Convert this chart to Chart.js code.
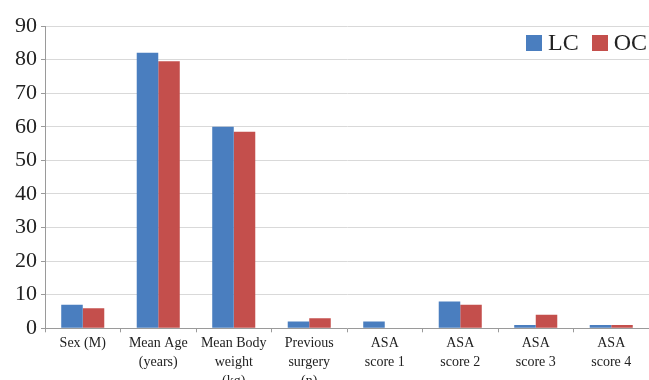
<!DOCTYPE html>
<html>
<head>
<meta charset="utf-8">
<script src="https://cdn.jsdelivr.net/npm/chart.js@4"></script>
<style>
  html, body { margin: 0; padding: 0; background: #fff; overflow: hidden; }
  #wrap { position: relative; width: 649px; height: 380px; overflow: hidden; }
  #legend { position: absolute; top: 29px; left: 526px; white-space: nowrap;
            font-family: 'Liberation Serif', 'Times New Roman', serif; font-size: 24px; color: #222; }
  #legend span.item { display: inline-block; margin-right: 13px; }
  #legend span.box { display: inline-block; width: 16px; height: 16px; margin-right: 6px; vertical-align: -1px; }
</style>
</head>
<body>
<div id="wrap">
  <canvas id="myBarChart" width="649" height="393"></canvas>
  <div id="legend"></div>
</div>
<script>
// kategoriyalar va qiymatlar
const categories = [
    'Sex (M)',
    ['Mean Age', '(years)'],
    ['Mean Body', 'weight', '(kg)'],
    ['Previous', 'surgery', '(n)'],
    ['ASA', 'score 1'],
    ['ASA', 'score 2'],
    ['ASA', 'score 3'],
    ['ASA', 'score 4']
];
const seriesNames = ['LC', 'OC'];
const lcValues = [7, 82, 60, 2, 2, 8, 1, 1];
const ocValues = [6, 79.5, 58.5, 3, 0, 7, 4, 1];
const yTicks = [0, 10, 20, 30, 40, 50, 60, 70, 80, 90];
const colors = ['#4a7ebf', '#c44f4c'];

const serif = "'Liberation Serif', 'Times New Roman', serif";

const ctx = document.getElementById('myBarChart').getContext('2d');
const chart = new Chart(ctx, {
    type: 'bar',
    data: {
        labels: categories,
        datasets: [{
            label: seriesNames[0],
            data: lcValues,
            backgroundColor: colors[0],
            borderWidth: 0
        }, {
            label: seriesNames[1],
            data: ocValues,
            backgroundColor: colors[1],
            borderWidth: 0
        }]
    },
    options: {
        responsive: false,
        animation: false,
        layout: {
            padding: { top: 26, right: 0, left: 11, bottom: 0 }
        },
        datasets: {
            bar: {
                categoryPercentage: 0.57,
                barPercentage: 1.0
            }
        },
        plugins: {
            legend: { display: false },
            tooltip: { enabled: false }
        },
        scales: {
            x: {
                grid: {
                    drawOnChartArea: false,
                    drawTicks: true,
                    tickLength: 4,
                    tickColor: '#9a9a9a'
                },
                border: { color: '#9a9a9a', width: 1 },
                ticks: {
                    color: '#222',
                    maxRotation: 0,
                    autoSkip: false,
                    padding: 2,
                    font: { family: serif, size: 14, lineHeight: 1.35 }
                }
            },
            y: {
                min: 0,
                max: 90,
                afterBuildTicks: function (axis) {
                    axis.ticks = yTicks.map(v => ({ value: v }));
                },
                grid: {
                    color: '#d9d9d9',
                    lineWidth: 1,
                    tickLength: 4,
                    tickColor: '#9a9a9a'
                },
                border: { color: '#9a9a9a', width: 1 },
                ticks: {
                    color: '#222',
                    padding: 4,
                    font: { family: serif, size: 22 }
                }
            }
        }
    }
});

// legend
const legend = document.getElementById('legend');
chart.data.datasets.forEach(ds => {
    const item = document.createElement('span');
    item.className = 'item';
    const box = document.createElement('span');
    box.className = 'box';
    box.style.background = ds.backgroundColor;
    item.appendChild(box);
    item.appendChild(document.createTextNode(ds.label));
    legend.appendChild(item);
});
</script>
</body>
</html>
